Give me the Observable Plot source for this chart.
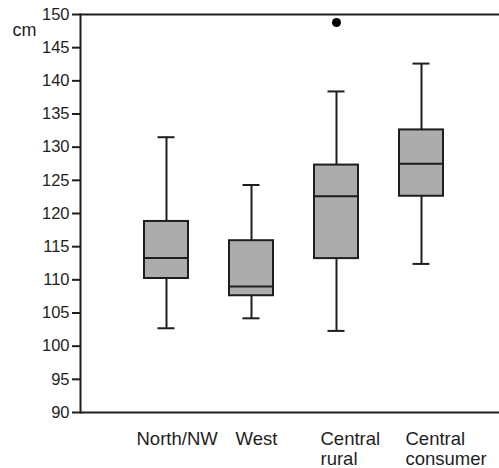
<!DOCTYPE html>
<html>
<head>
<meta charset="utf-8">
<script src="https://cdn.jsdelivr.net/npm/d3@7"></script>
<script src="https://cdn.jsdelivr.net/npm/@observablehq/plot@0.6"></script>
<style>
  html, body { margin: 0; padding: 0; background: #fff; }
  svg { display: block; }
</style>
</head>
<body>
<div id="chart"></div>
<script>
const categories = ["North/NW", "West", "Central rural", "Central consumer"];
const tickLabels = ["North/NW", "West", "Central\nrural", "Central\nconsumer"];
const whiskerLow = [102.7, 104.2, 102.3, 112.4];
const quartile1 = [110.2, 107.6, 113.2, 122.6];
const medians = [113.3, 109.0, 122.6, 127.5];
const quartile3 = [118.8, 115.9, 127.3, 132.6];
const whiskerHigh = [131.5, 124.3, 138.4, 142.6];
const outlierCategories = ["Central rural"];
const outlierValues = [148.8];
const yTicks = d3.range(90, 151, 5);

const boxes = categories.map((c, i) => ({
  cat: c, label: tickLabels[i], lo: whiskerLow[i], q1: quartile1[i],
  med: medians[i], q3: quartile3[i], hi: whiskerHigh[i]
}));
const outliers = outlierCategories.map((c, i) => ({cat: c, v: outlierValues[i]}));

const ink = "#1e1e1e";
const chart = Plot.plot({
  width: 499,
  height: 468,
  marginLeft: 80,
  marginRight: 0,
  marginTop: 14,
  marginBottom: 56,
  style: {fontFamily: "Liberation Sans, Arial, sans-serif", color: ink, background: "#fff"},
  x: {type: "band", domain: categories, range: [122, 465], paddingInner: 0.486, paddingOuter: 0.243, axis: null},
  y: {domain: [90, 150], axis: null},
  marks: [
    Plot.axisY({ticks: yTicks, tickSize: 8, tickPadding: 3, strokeWidth: 2, fontSize: 16.5, label: null, stroke: ink, fill: ink}),
    Plot.ruleY([90, 150], {stroke: ink, strokeWidth: 2}),
    Plot.frame({anchor: "left", stroke: ink, strokeWidth: 2}),
    Plot.ruleX(boxes, {x: "cat", y1: "lo", y2: "q1", stroke: ink, strokeWidth: 2}),
    Plot.ruleX(boxes, {x: "cat", y1: "q3", y2: "hi", stroke: ink, strokeWidth: 2}),
    Plot.tickY(boxes, {x: "cat", y: "lo", stroke: ink, strokeWidth: 2, insetLeft: 13.5, insetRight: 13.5}),
    Plot.tickY(boxes, {x: "cat", y: "hi", stroke: ink, strokeWidth: 2, insetLeft: 13.5, insetRight: 13.5}),
    Plot.barY(boxes, {x: "cat", y1: "q1", y2: "q3", fill: "#acacac", stroke: ink, strokeWidth: 2}),
    Plot.tickY(boxes, {x: "cat", y: "med", stroke: ink, strokeWidth: 2}),
    Plot.dot(outliers, {x: "cat", y: "v", r: 4.5, fill: "#000", stroke: "none"}),
    Plot.text(boxes.filter(d => d.cat === "North/NW"), {x: "cat", text: "label", frameAnchor: "bottom", textAnchor: "start", lineAnchor: "top", dx: -30, dy: 18, fontSize: 18.5, lineHeight: 1.08, fill: ink}),
    Plot.text(boxes.filter(d => d.cat !== "North/NW"), {x: "cat", text: "label", frameAnchor: "bottom", textAnchor: "start", lineAnchor: "top", dx: -16, dy: 18, fontSize: 18.5, lineHeight: 1.08, fill: ink}),
    Plot.text(["cm"], {frameAnchor: "top-left", textAnchor: "start", lineAnchor: "middle", dx: -68, dy: 16, fontSize: 18, fill: ink})
  ]
});
document.getElementById("chart").appendChild(chart);
</script>
</body>
</html>
